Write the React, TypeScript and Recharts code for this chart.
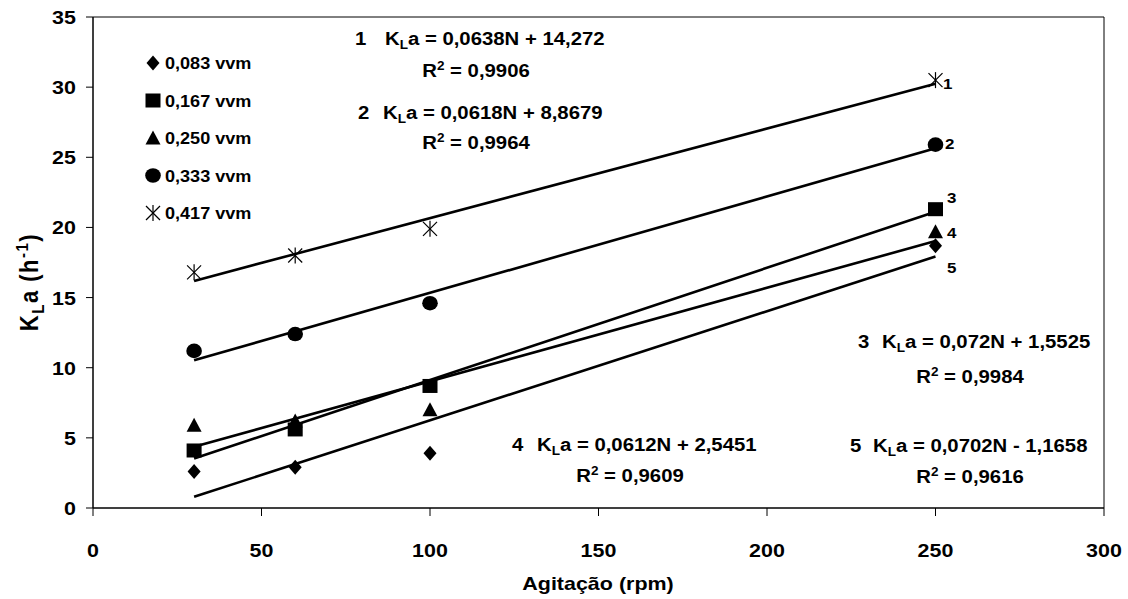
import React from "react";
import {
  ComposedChart,
  Scatter,
  XAxis,
  YAxis,
  ReferenceLine,
  ReferenceArea,
} from "recharts";

// Agitação (rpm) and measured KLa (h-1) for each aeration rate
const agitacao = [30, 60, 100, 250];
const kla083 = [2.6, 2.9, 3.9, 18.7];
const kla167 = [4.1, 5.6, 8.7, 21.3];
const kla250 = [5.9, 6.2, 7.0, 19.7];
const kla333 = [11.2, 12.4, 14.6, 25.9];
const kla417 = [16.8, 18.0, 19.9, 30.5];

const xTicks = [0, 50, 100, 150, 200, 250, 300];
const yTicks = [0, 5, 10, 15, 20, 25, 30, 35];

const FONT = "'Liberation Sans', Arial, sans-serif";
// the whole figure is drawn a little wider than tall, so glyphs get stretched too
const SX = 1.13;

type Marker = "diamond" | "square" | "triangle" | "circle" | "star";

const series: { name: string; values: number[]; marker: Marker }[] = [
  { name: "0,083 vvm", values: kla083, marker: "diamond" },
  { name: "0,167 vvm", values: kla167, marker: "square" },
  { name: "0,250 vvm", values: kla250, marker: "triangle" },
  { name: "0,333 vvm", values: kla333, marker: "circle" },
  { name: "0,417 vvm", values: kla417, marker: "star" },
];

// ordinary least-squares trendline, like a spreadsheet linear trend
function linearFit(xs: number[], ys: number[]) {
  const n = xs.length;
  const mx = xs.reduce((a, b) => a + b, 0) / n;
  const my = ys.reduce((a, b) => a + b, 0) / n;
  let sxy = 0;
  let sxx = 0;
  xs.forEach((x, i) => {
    sxy += (x - mx) * (ys[i] - my);
    sxx += (x - mx) * (x - mx);
  });
  const slope = sxy / sxx;
  return { slope, intercept: my - slope * mx };
}

function drawMarker(marker: Marker, cx: number, cy: number) {
  switch (marker) {
    case "diamond":
      return <polygon points={`${cx},${cy - 7.5} ${cx + 6.5},${cy} ${cx},${cy + 7.5} ${cx - 6.5},${cy}`} fill="#000" />;
    case "square":
      return <rect x={cx - 7.5} y={cy - 7} width={15} height={14} fill="#000" />;
    case "triangle":
      return <polygon points={`${cx},${cy - 7.5} ${cx + 7.5},${cy + 6.5} ${cx - 7.5},${cy + 6.5}`} fill="#000" />;
    case "circle":
      return <ellipse cx={cx} cy={cy} rx={7.8} ry={7.3} fill="#000" />;
    case "star":
      return (
        <g stroke="#000" strokeWidth={1.2}>
          <line x1={cx - 7} y1={cy - 7} x2={cx + 7} y2={cy + 7} />
          <line x1={cx - 7} y1={cy + 7} x2={cx + 7} y2={cy - 7} />
          <line x1={cx} y1={cy - 8} x2={cx} y2={cy + 8} />
        </g>
      );
  }
}

const markerShape = (marker: Marker) => (props: any) => <g>{drawMarker(marker, props.cx, props.cy)}</g>;

function SText({
  x,
  y,
  size = 18,
  anchor = "start",
  children,
}: {
  x: number;
  y: number;
  size?: number;
  anchor?: "start" | "middle" | "end";
  children: React.ReactNode;
}) {
  return (
    <text
      transform={`translate(${x},${y}) scale(${SX},1)`}
      textAnchor={anchor}
      fontFamily={FONT}
      fontWeight="bold"
      fontSize={size}
      fill="#000"
    >
      {children}
    </text>
  );
}

function Equation({ x, y, num, eq, gap }: { x: number; y: number; num: string; eq: string; gap: number }) {
  return (
    <SText x={x} y={y}>
      <tspan>{num}</tspan>
      <tspan x={gap / SX}>K</tspan>
      <tspan fontSize={12} dy={4}>L</tspan>
      <tspan dy={-4}>{`a = ${eq}`}</tspan>
    </SText>
  );
}

function RSquared({ x, y, value }: { x: number; y: number; value: string }) {
  return (
    <SText x={x} y={y} anchor="middle">
      <tspan>R</tspan>
      <tspan fontSize={12} dy={-7}>2</tspan>
      <tspan dy={7}>{` = ${value}`}</tspan>
    </SText>
  );
}

const XTick = (props: any) => (
  <SText x={props.x} y={props.y + 41} size={19} anchor="middle">
    {props.payload.value}
  </SText>
);

const YTick = (props: any) => (
  <SText x={76} y={props.y + 7} size={19} anchor="end">
    {props.payload.value}
  </SText>
);

export default function App() {
  const W = 1128;
  const H = 599;
  return (
    <div style={{ position: "relative", width: W, height: H, background: "#fff" }}>
      <style>{`body{margin:0}`}</style>
      <ComposedChart width={W} height={H} margin={{ top: 17, right: 24, left: 0, bottom: 0 }}>
        <XAxis
          type="number"
          dataKey="x"
          domain={[0, 300]}
          ticks={xTicks}
          interval={0}
          height={91}
          tickSize={8}
          tickMargin={0}
          stroke="#000"
          tick={XTick}
        />
        <YAxis
          type="number"
          dataKey="y"
          domain={[0, 35]}
          ticks={yTicks}
          interval={0}
          width={93}
          tickSize={7}
          tickMargin={0}
          stroke="#000"
          tick={YTick}
        />
        <ReferenceArea x1={0} x2={300} y1={0} y2={35} fill="none" stroke="#000" strokeWidth={1} ifOverflow="visible" />
        {series.map((s) => {
          const { slope, intercept } = linearFit(agitacao, s.values);
          const x0 = agitacao[0];
          const x1 = agitacao[agitacao.length - 1];
          return (
            <ReferenceLine
              key={`t-${s.name}`}
              segment={[
                { x: x0, y: slope * x0 + intercept },
                { x: x1, y: slope * x1 + intercept },
              ]}
              stroke="#000"
              strokeWidth={2.6}
            />
          );
        })}
        {series.map((s) => (
          <Scatter
            key={s.name}
            name={s.name}
            data={agitacao.map((x, i) => ({ x, y: s.values[i] }))}
            shape={markerShape(s.marker)}
            isAnimationActive={false}
          />
        ))}
      </ComposedChart>

      <svg width={W} height={H} style={{ position: "absolute", left: 0, top: 0, pointerEvents: "none" }}>
        {/* legend */}
        {series.map((s, i) => {
          const y = 63 + i * 37.5;
          return (
            <g key={s.name}>
              {drawMarker(s.marker, 153, y)}
              <SText x={165} y={y + 6} size={16}>
                {s.name}
              </SText>
            </g>
          );
        })}

        {/* trendline numbers */}
        <SText x={943} y={89} size={15}>1</SText>
        <SText x={945} y={149} size={15}>2</SText>
        <SText x={947} y={203} size={15}>3</SText>
        <SText x={947} y={238} size={15}>4</SText>
        <SText x={947} y={273} size={15}>5</SText>

        <Equation x={355} y={45} gap={30} num="1" eq="0,0638N + 14,272" />
        <RSquared x={476} y={77} value="0,9906" />
        <Equation x={358} y={119} gap={25} num="2" eq="0,0618N + 8,8679" />
        <RSquared x={476} y={149} value="0,9964" />
        <Equation x={858} y={348} gap={24} num="3" eq="0,072N + 1,5525" />
        <RSquared x={970} y={383} value="0,9984" />
        <Equation x={512} y={451} gap={25} num="4" eq="0,0612N + 2,5451" />
        <RSquared x={630} y={482} value="0,9609" />
        <Equation x={850} y={452} gap={23} num="5" eq="0,0702N - 1,1658" />
        <RSquared x={970} y={483} value="0,9616" />

        {/* axis titles */}
        <SText x={598} y={590} size={19} anchor="middle">
          Agitação (rpm)
        </SText>
        <text
          transform="translate(38,282) rotate(-90) scale(1,1.13)"
          textAnchor="middle"
          fontFamily={FONT}
          fontWeight="bold"
          fontSize={22}
          letterSpacing={1.5}
          fill="#000"
        >
          <tspan>K</tspan>
          <tspan fontSize={15} dy={5}>L</tspan>
          <tspan dy={-5}>a (h</tspan>
          <tspan fontSize={15} dy={-9}>-1</tspan>
          <tspan dy={9}>)</tspan>
        </text>
      </svg>
    </div>
  );
}
